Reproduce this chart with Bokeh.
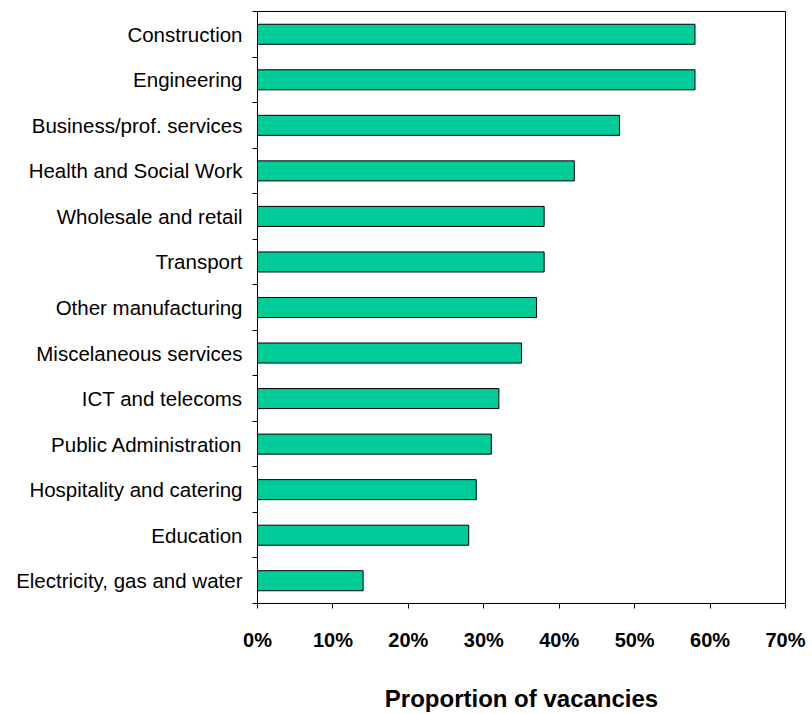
from bokeh.plotting import figure
from bokeh.models import Range1d, FixedTicker, NumeralTickFormatter
from bokeh.embed import file_html
from bokeh.resources import INLINE

categories = ["Construction", "Engineering", "Business/prof. services", "Health and Social Work",
              "Wholesale and retail", "Transport", "Other manufacturing", "Miscelaneous services",
              "ICT and telecoms", "Public Administration", "Hospitality and catering", "Education",
              "Electricity, gas and water"]
values = [0.58, 0.58, 0.48, 0.42, 0.38, 0.38, 0.37, 0.35, 0.32, 0.31, 0.29, 0.28, 0.14]
x_ticks = [0.0, 0.1, 0.2, 0.3, 0.4, 0.5, 0.6, 0.7]

n = len(categories)
ypos = [n - i - 0.5 for i in range(n)]

p = figure(width=812, height=714, output_backend="svg", toolbar_location=None,
           x_range=Range1d(0, 0.7), y_range=Range1d(0, n),
           min_border_left=257, min_border_right=27, min_border_top=11, min_border_bottom=110)

p.hbar(y=ypos, right=values, left=0, height=0.44, fill_color="#00CC99",
       line_color="#000000", line_width=1)

p.xgrid.visible = False
p.ygrid.visible = False
p.outline_line_color = "#000000"
p.outline_line_width = 1

xa = p.xaxis[0]
xa.ticker = FixedTicker(ticks=x_ticks)
xa.formatter = NumeralTickFormatter(format="0%")
xa.major_tick_in = 0
xa.major_tick_out = 5
xa.minor_tick_out = 0
xa.minor_tick_in = 0
xa.axis_line_color = "#000000"
xa.major_tick_line_color = "#000000"
xa.major_label_text_font = "Liberation Sans"
xa.major_label_text_font_style = "bold"
xa.major_label_text_font_size = "20px"
xa.major_label_text_color = "#000000"
xa.major_label_standoff = 20
xa.axis_label = "Proportion of vacancies"
xa.axis_label_text_font = "Liberation Sans"
xa.axis_label_text_font_style = "bold"
xa.axis_label_text_font_size = "24px"
xa.axis_label_text_color = "#000000"
xa.axis_label_standoff = 31

ya = p.yaxis[0]
ya.ticker = FixedTicker(ticks=ypos, minor_ticks=list(range(n + 1)))
ya.major_label_overrides = {y: c for y, c in zip(ypos, categories)}
ya.major_tick_in = 0
ya.major_tick_out = 0
ya.minor_tick_in = 0
ya.minor_tick_out = 5
ya.minor_tick_line_color = "#000000"
ya.axis_line_color = "#000000"
ya.major_label_text_font = "Liberation Sans"
ya.major_label_text_font_size = "20.5px"
ya.major_label_text_color = "#000000"
ya.major_label_standoff = 10

open("out.html", "w").write(file_html(p, INLINE))
